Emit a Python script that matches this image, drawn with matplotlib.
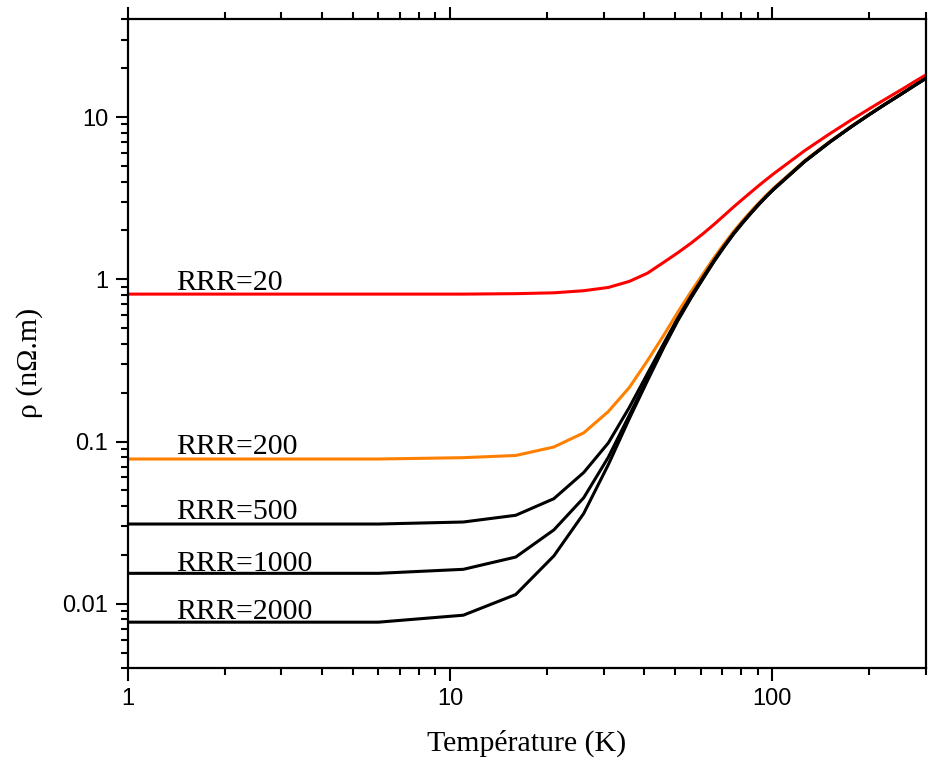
import numpy as np
import matplotlib
matplotlib.use("Agg")
import matplotlib.pyplot as plt
from matplotlib.ticker import LogLocator, NullFormatter

# Temperature grid (K)
T = [1, 6, 11, 16, 21, 26, 31, 36, 41, 46, 51, 56, 61, 66, 71, 76, 81, 86, 91, 96, 101,
     126, 151, 176, 201, 226, 251, 276, 300]

# Resistivity (nOhm.m)
rho_rrr20 = [0.81, 0.81, 0.81, 0.815, 0.825, 0.85, 0.89, 0.97, 1.09, 1.27, 1.46, 1.67, 1.91,
             2.18, 2.48, 2.80, 3.12, 3.45, 3.79, 4.13, 4.47, 6.2, 7.9, 9.6, 11.3, 13.0, 14.7,
             16.5, 18.2]
rho_rrr200 = [0.078, 0.078, 0.0795, 0.082, 0.0925, 0.113, 0.153, 0.215, 0.315, 0.45, 0.63, 0.84,
              1.08, 1.36, 1.66, 1.98, 2.30, 2.63, 2.97, 3.31, 3.65, 5.38, 7.08, 8.78, 10.48,
              12.18, 13.88, 15.68, 17.38]
rho_rrr500 = [0.031, 0.031, 0.0319, 0.0351, 0.0444, 0.0644, 0.098, 0.162, 0.262, 0.40, 0.58, 0.79,
              1.03, 1.31, 1.61, 1.93, 2.25, 2.58, 2.92, 3.26, 3.60, 5.33, 7.03, 8.73, 10.43,
              12.13, 13.83, 15.63, 17.33]
rho_rrr1000 = [0.0154, 0.0154, 0.0163, 0.0194, 0.0285, 0.045, 0.080, 0.145, 0.245, 0.385, 0.565,
               0.775, 1.015, 1.295, 1.595, 1.915, 2.235, 2.565, 2.905, 3.245, 3.585, 5.315,
               7.015, 8.715, 10.415, 12.115, 13.815, 15.615, 17.315]
rho_rrr2000 = [0.0077, 0.0077, 0.0085, 0.0114, 0.0197, 0.036, 0.072, 0.138, 0.237, 0.378, 0.558,
               0.768, 1.008, 1.288, 1.588, 1.908, 2.228, 2.558, 2.898, 3.238, 3.578, 5.31,
               7.01, 8.71, 10.41, 12.11, 13.81, 15.61, 17.31]

labels = ["RRR=20", "RRR=200", "RRR=500", "RRR=1000", "RRR=2000"]
label_y = [0.859, 0.0835, 0.0331, 0.0159, 0.0080]
series = [rho_rrr20, rho_rrr200, rho_rrr500, rho_rrr1000, rho_rrr2000]
colors = ["#ff0000", "#ff8000", "#000000", "#000000", "#000000"]

xticks = [1, 10, 100]
xticklabels = ["1", "10", "100"]
yticks = [0.01, 0.1, 1, 10]
yticklabels = ["0.01", "0.1", "1", "10"]

fig = plt.figure(figsize=(9.32, 7.61), dpi=100)
ax = fig.add_axes([0.137, 0.1218, 0.8566, 0.8528])

for s, c in zip(series, colors):
    ax.plot(T, s, color=c, lw=2.2, solid_joinstyle="round")

for lab, ly in zip(labels, label_y):
    ax.text(1.41, ly, lab, fontsize=21.5, family="Liberation Serif", va="baseline", ha="left")

ax.set_xscale("log")
ax.set_yscale("log")
ax.set_xlim(1, 300)
ax.set_ylim(0.004, 40)

ax.set_xticks(xticks)
ax.set_xticklabels(xticklabels)
ax.set_yticks(yticks)
ax.set_yticklabels(yticklabels)
ax.xaxis.set_minor_locator(LogLocator(base=10, subs=np.arange(2, 10)))
ax.yaxis.set_minor_locator(LogLocator(base=10, subs=np.arange(2, 10), numticks=20))
ax.xaxis.set_minor_formatter(NullFormatter())
ax.yaxis.set_minor_formatter(NullFormatter())

for lab in ax.get_xticklabels() + ax.get_yticklabels():
    lab.set_family("Liberation Sans")
    lab.set_fontsize(17)

ax.tick_params(which="both", direction="out", top=True, right=False, labeltop=False,
               width=1.5, colors="black")
ax.tick_params(which="major", length=9, pad=5)
ax.tick_params(which="minor", length=5)
for sp in ax.spines.values():
    sp.set_linewidth(1.6)

ax.set_xlabel("Température (K)", fontsize=21.5, family="Liberation Serif", labelpad=14)
ax.set_ylabel("ρ (nΩ.m)", fontsize=21.5, family="Liberation Serif")
ax.yaxis.set_label_coords(-0.106, 0.47)

fig.savefig("out.png", dpi=100)
